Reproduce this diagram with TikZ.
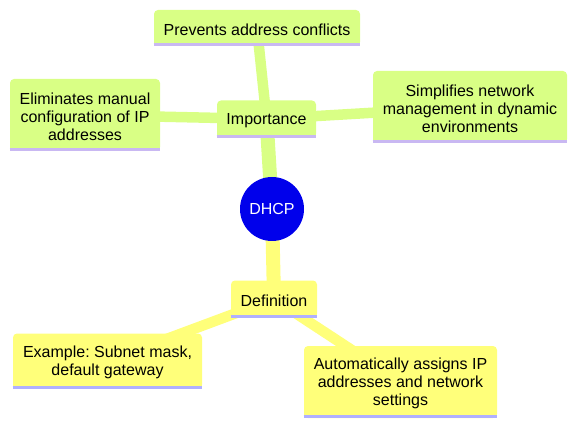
\documentclass[tikz,border=0pt]{standalone}
\usepackage{fontspec}
\setmainfont{Liberation Sans}
\frenchspacing
\newdimen\mpx \mpx=0.75pt
\definecolor{grn}{HTML}{D9FF85}
\definecolor{ylw}{HTML}{FFFF7A}
\definecolor{grnline}{HTML}{C9B8F2}
\definecolor{ylwline}{HTML}{B0B0FF}
\definecolor{root}{HTML}{0000EB}
\tikzset{
  mmbox/.style={rounded corners=4\mpx, inner sep=0pt},
  gbox/.style={mmbox, fill=grn},
  ybox/.style={mmbox, fill=ylw},
  mmtext/.style={inner sep=0pt, align=center, font=\fontsize{12pt}{13.5pt}\selectfont\frenchspacing, text=black},
  edgeA/.style={line width=14\mpx},
  edgeB/.style={line width=10.5\mpx},
}
% #1 name, #2 colour name, #3 text
\newcommand\mmlabel[3]{%
  \fill[#2] ([yshift=5\mpx]#1.south west) rectangle (#1.south east);
  \draw[#2line, line width=3\mpx] ([yshift=1.5\mpx]#1.south west) -- ([yshift=1.5\mpx]#1.south east);
  \node[mmtext] (#1text) at ([yshift=-1.8\mpx]#1.center) {#3};}
\begin{document}
\begin{tikzpicture}[x=\mpx, y=-\mpx]
\useasboundingbox (0,0) rectangle (577,427);
\coordinate (cRoot) at (272,209);
\coordinate (cImp) at (266.5,119);
\coordinate (cPrev) at (257,28);
\coordinate (cElim) at (85,115);
\coordinate (cSimp) at (470,107);
\coordinate (cDef) at (274,299);
\coordinate (cEx) at (107.5,361);
\coordinate (cAuto) at (400.5,382);
% edges
\draw[grn, edgeA] (cRoot) -- (cImp);
\draw[grn, edgeB] (cImp) -- (cPrev);
\draw[grn, edgeB] (cImp) -- (cElim);
\draw[grn, edgeB] (cImp) -- (cSimp);
\draw[ylw, edgeA] (cRoot) -- (cDef);
\draw[ylw, edgeB] (cDef) -- (cEx);
\draw[ylw, edgeB] (cDef) -- (cAuto);
% nodes
\node[circle, fill=root, minimum size=64\mpx, inner sep=0pt, text=white, font=\fontsize{12pt}{13.5pt}\selectfont] (root) at (cRoot) {DHCP};
\node[gbox, minimum width=99\mpx, minimum height=37\mpx] (imp) at (cImp) {};
\mmlabel{imp}{grn}{Importance}
\node[gbox, minimum width=206\mpx, minimum height=36\mpx] (prev) at (cPrev) {};
\mmlabel{prev}{grn}{Prevents address conflicts}
\node[gbox, minimum width=150\mpx, minimum height=72\mpx] (elim) at (cElim) {};
\mmlabel{elim}{grn}{Eliminates manual\\configuration of IP\\addresses}
\node[gbox, minimum width=194\mpx, minimum height=72\mpx] (simp) at (cSimp) {};
\mmlabel{simp}{grn}{Simplifies network\\management in dynamic\\environments}
\node[ybox, minimum width=86\mpx, minimum height=37\mpx] (def) at (cDef) {};
\mmlabel{def}{ylw}{Definition}
\node[ybox, minimum width=189\mpx, minimum height=55\mpx] (ex) at (cEx) {};
\mmlabel{ex}{ylw}{Example: Subnet mask,\\default gateway}
\node[ybox, minimum width=193\mpx, minimum height=72\mpx] (auto) at (cAuto) {};
\mmlabel{auto}{ylw}{Automatically assigns IP\\addresses and network\\settings}
\end{tikzpicture}
\end{document}
